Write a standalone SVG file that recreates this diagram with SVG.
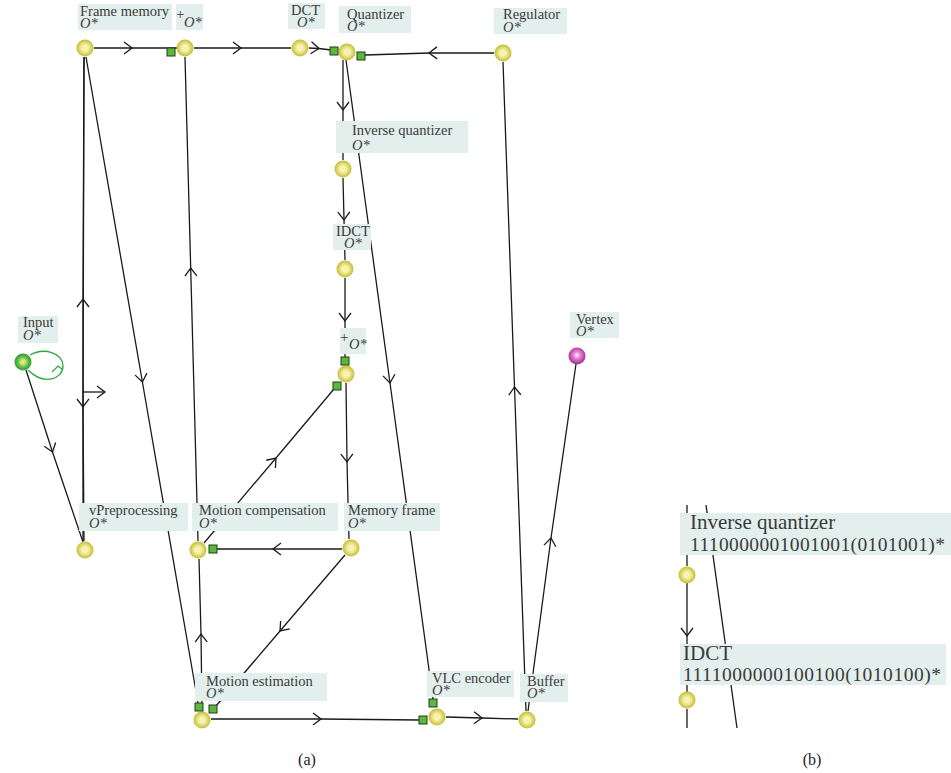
<svg xmlns="http://www.w3.org/2000/svg" width="951" height="773" viewBox="0 0 951 773">
<style>
.e{fill:none;stroke:#1a1a1a;stroke-width:1.3;marker-mid:url(#ch)}
.p{fill:none;stroke:#1a1a1a;stroke-width:1.3}
.bx{fill:#e3efec}
.t{font-family:"Liberation Serif",serif;font-size:14.5px;fill:#3a3a3a}
.i{font-style:italic}
.pl{font-size:15px}
.big{font-size:21px}
.dg{font-size:19.5px}
.sq{fill:#5cb83c;stroke:#1e3d1a;stroke-width:1}
.cap{font-family:"Liberation Serif",serif;font-size:16px;fill:#222;text-anchor:middle}
</style>
<defs>
<marker id="ch" markerUnits="userSpaceOnUse" viewBox="-10 -10 20 20" markerWidth="20" markerHeight="20" refX="0" refY="0" orient="auto" overflow="visible">
<path d="M-8,-6 L0,0 L-8,6" fill="none" stroke="#1a1a1a" stroke-width="1.3"/>
</marker>
<radialGradient id="gy" cx="50%" cy="50%" r="50%">
<stop offset="0" stop-color="#f3e05a"/>
<stop offset="0.14" stop-color="#fbf8c8"/>
<stop offset="0.45" stop-color="#f0ec98"/>
<stop offset="1" stop-color="#c4bc36"/>
</radialGradient>
<radialGradient id="gg" cx="50%" cy="50%" r="50%">
<stop offset="0" stop-color="#f6f27a"/>
<stop offset="0.3" stop-color="#c8e070"/>
<stop offset="0.6" stop-color="#62c048"/>
<stop offset="1" stop-color="#2e9a38"/>
</radialGradient>
<radialGradient id="gm" cx="50%" cy="45%" r="55%">
<stop offset="0" stop-color="#fde8f8"/>
<stop offset="0.4" stop-color="#e080d0"/>
<stop offset="1" stop-color="#a02888"/>
</radialGradient>
</defs>
<rect width="951" height="773" fill="#fff"/>
<g id="connectors">
<path class="e" d="M94,48 L132,48 L177,48"/>
<path class="e" d="M194,48 L241,48 L291,48"/>
<path class="e" d="M309,48 L319,48.5 L331,50"/>
<path class="e" d="M494,53 L429,53 L365,55"/>
<path class="e" d="M343,60 L343,110 L343,160"/>
<path class="e" d="M346,60 L390,383 L433,699"/>
<path class="e" d="M343,178 L344,220 L345,260"/>
<path class="e" d="M345,278 L345,321 L345,357"/>
<path class="e" d="M346,383 L347,462 L349,539"/>
<path class="e" d="M342,549 L273,549 L217,549"/>
<path class="e" d="M345,555 L280,631 L216,706"/>
<path class="e" d="M204,543 L276,458 L334,389"/>
<path class="e" d="M202,711 L201,634 L199,559"/>
<path class="e" d="M198,541 L190.7,268 L185,57"/>
<path class="e" d="M86,57 L142.4,382 L198,703"/>
<path class="e" d="M83,541 L83,299 L84,57"/>
<path class="e" d="M84,57 L83,407 L84,541"/>
<path class="p" d="M83,392 L105,392" marker-end="url(#ch)"/>
<path class="e" d="M26,370 L52.5,452 L83,542"/>
<path class="e" d="M526,711 L514.5,387 L503,62"/>
<path class="e" d="M528,711 L551,538 L576,364"/>
<path class="e" d="M211,719 L321,719 L419,720"/>
<path class="e" d="M446,717 L482,718 L518,719"/>
<path d="M30,355 C44,347 63,353 63,366 C63,379 44,386 28,370" fill="none" stroke="#2ea83a" stroke-width="1.3"/>
<path d="M52,372 L58,366 L63,370" fill="none" stroke="#2ea83a" stroke-width="1.3"/>
<path class="p" d="M687,505 L687,566"/>
<path class="e" d="M687,583 L687,636 L687,692"/>
<path class="p" d="M687,709 L687,728"/>
<path class="p" d="M706,505 L737,728"/>
</g>
<g id="frame-memory">
<rect class="bx" x="78" y="4" width="94" height="26"/>
<text class="t" x="80" y="16">Frame memory</text>
<text class="t i" x="80" y="28">O*</text>
<circle cx="85" cy="48" r="8.5" fill="url(#gy)"/>
</g>
<g id="plus1">
<rect class="bx" x="176" y="4" width="27" height="26"/>
<text class="t pl" x="176" y="19">+</text>
<text class="t i" x="184" y="27">O*</text>
<circle cx="185" cy="48" r="8.5" fill="url(#gy)"/>
<rect class="sq" x="167" y="48" width="8" height="8"/>
</g>
<g id="dct">
<rect class="bx" x="288" y="3" width="37" height="26"/>
<text class="t" x="291" y="15">DCT</text>
<text class="t i" x="297" y="27">O*</text>
<circle cx="300" cy="48" r="8.5" fill="url(#gy)"/>
</g>
<g id="quantizer">
<rect class="bx" x="339" y="6" width="72" height="27"/>
<text class="t" x="347" y="19">Quantizer</text>
<text class="t i" x="347" y="31">O*</text>
<circle cx="347" cy="52" r="8.5" fill="url(#gy)"/>
<rect class="sq" x="330" y="47" width="8" height="8"/>
<rect class="sq" x="357" y="52" width="8" height="8"/>
</g>
<g id="regulator">
<rect class="bx" x="494" y="8" width="73" height="26"/>
<text class="t" x="503" y="19">Regulator</text>
<text class="t i" x="503" y="32">O*</text>
<circle cx="503" cy="53" r="8.5" fill="url(#gy)"/>
</g>
<g id="inverse-quantizer">
<rect class="bx" x="336" y="121" width="132" height="32"/>
<text class="t" x="352" y="135">Inverse quantizer</text>
<text class="t i" x="352" y="150">O*</text>
<circle cx="343" cy="169" r="8.5" fill="url(#gy)"/>
</g>
<g id="idct">
<rect class="bx" x="333" y="224" width="38" height="26"/>
<text class="t" x="336" y="236">IDCT</text>
<text class="t i" x="344" y="248">O*</text>
<circle cx="345" cy="269" r="8.5" fill="url(#gy)"/>
</g>
<g id="plus2">
<rect class="bx" x="340" y="328" width="26" height="26"/>
<text class="t pl" x="340" y="342">+</text>
<text class="t i" x="349" y="349">O*</text>
<circle cx="346" cy="374" r="8.5" fill="url(#gy)"/>
<rect class="sq" x="341" y="357" width="8" height="8"/>
<rect class="sq" x="333" y="382" width="8" height="8"/>
</g>
<g id="input">
<rect class="bx" x="18" y="316" width="40" height="27"/>
<text class="t" x="23" y="327">Input</text>
<text class="t i" x="23" y="340">O*</text>
<circle cx="23" cy="362" r="8.5" fill="url(#gg)"/>
</g>
<g id="vertex">
<rect class="bx" x="570" y="312" width="49" height="26"/>
<text class="t" x="576" y="324">Vertex</text>
<text class="t i" x="576" y="336">O*</text>
<circle cx="577" cy="356" r="8.5" fill="url(#gm)"/>
</g>
<g id="vpreprocessing">
<rect class="bx" x="79" y="503" width="109" height="28"/>
<text class="t" x="89" y="515">vPreprocessing</text>
<text class="t i" x="89" y="528">O*</text>
<circle cx="85" cy="550" r="8.5" fill="url(#gy)"/>
</g>
<g id="motion-compensation">
<rect class="bx" x="192" y="503" width="146" height="28"/>
<text class="t" x="199" y="515">Motion compensation</text>
<text class="t i" x="199" y="528">O*</text>
<circle cx="198" cy="550" r="8.5" fill="url(#gy)"/>
<rect class="sq" x="209" y="545" width="8" height="8"/>
</g>
<g id="memory-frame">
<rect class="bx" x="344" y="503" width="96" height="28"/>
<text class="t" x="348" y="515">Memory frame</text>
<text class="t i" x="348" y="528">O*</text>
<circle cx="351" cy="548" r="8.5" fill="url(#gy)"/>
</g>
<g id="motion-estimation">
<rect class="bx" x="195" y="673" width="132" height="28"/>
<text class="t" x="206" y="686">Motion estimation</text>
<text class="t i" x="206" y="698">O*</text>
<circle cx="202" cy="720" r="8.5" fill="url(#gy)"/>
<rect class="sq" x="195" y="703" width="8" height="8"/>
<rect class="sq" x="209" y="705" width="8" height="8"/>
</g>
<g id="vlc-encoder">
<rect class="bx" x="427" y="671" width="87" height="26"/>
<text class="t" x="432" y="683">VLC encoder</text>
<text class="t i" x="432" y="695">O*</text>
<circle cx="437" cy="717" r="8.5" fill="url(#gy)"/>
<rect class="sq" x="429" y="699" width="8" height="8"/>
<rect class="sq" x="419" y="716" width="8" height="8"/>
</g>
<g id="buffer">
<rect class="bx" x="520" y="674" width="48" height="28"/>
<text class="t" x="527" y="686">Buffer</text>
<text class="t i" x="527" y="698">O*</text>
<circle cx="527" cy="720" r="8.5" fill="url(#gy)"/>
</g>
<g id="b-inverse-quantizer">
<rect class="bx" x="680" y="513" width="271" height="42"/>
<text class="t big" x="690" y="529">Inverse quantizer</text>
<text class="t dg" x="690" y="551" textLength="255" lengthAdjust="spacing">1110000001001001(0101001)*</text>
<circle cx="687" cy="575" r="8.5" fill="url(#gy)"/>
</g>
<g id="b-idct">
<rect class="bx" x="680" y="644" width="266" height="41"/>
<text class="t big" x="683" y="660">IDCT</text>
<text class="t dg" x="683" y="681" textLength="258" lengthAdjust="spacing">1111000000100100(1010100)*</text>
<circle cx="687" cy="700" r="8.5" fill="url(#gy)"/>
</g>
<text class="cap" x="307" y="765">(a)</text>
<text class="cap" x="812" y="765">(b)</text>
</svg>
